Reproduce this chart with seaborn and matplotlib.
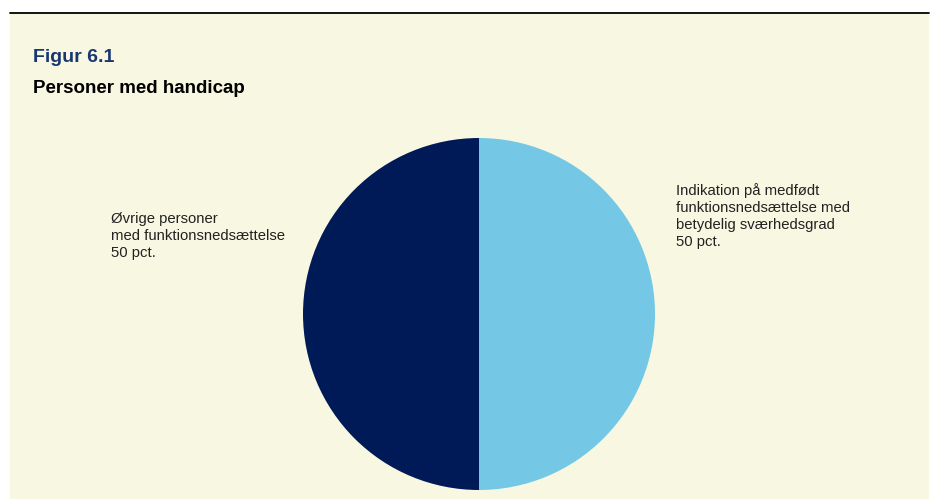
import matplotlib
matplotlib.use("Agg")
import matplotlib.pyplot as plt
import seaborn as sns
from matplotlib.patches import Rectangle
from matplotlib.lines import Line2D

# Data
labels = ["Øvrige personer\nmed funktionsnedsættelse\n50 pct.",
          "Indikation på medfødt\nfunktionsnedsættelse med\nbetydelig sværhedsgrad\n50 pct."]
shares = [50, 50]
colors = ["#001a57", "#74c8e6"]

sns.set_theme(style="white")
plt.rcParams['font.family'] = ['Liberation Sans', 'DejaVu Sans']

W, H = 936, 499
fig = plt.figure(figsize=(W / 100, H / 100), dpi=100)
fig.patch.set_facecolor("white")

# cream panel + top rule
fig.add_artist(Rectangle((10 / W, 0), (929 - 10) / W, (H - 13) / H,
                         transform=fig.transFigure, facecolor="#f8f7e1",
                         edgecolor="none", zorder=0))
fig.add_artist(Line2D([10 / W, 929 / W], [1 - 12.5 / H, 1 - 12.5 / H],
                      transform=fig.transFigure, color="black", lw=1.3))

fig.text(33 / W, 1 - 62 / H, "Figur 6.1", fontsize=14, fontweight="bold",
         color="#183670", va="baseline")
fig.text(33 / W, 1 - 93 / H, "Personer med handicap", fontsize=13.5,
         fontweight="bold", color="black", va="baseline")

# pie
cx, cy, r = 479, 314, 176
ax = fig.add_axes([(cx - r) / W, (H - cy - r) / H, 2 * r / W, 2 * r / H])
ax.pie(shares, colors=colors, startangle=90, counterclock=True,
       radius=1, wedgeprops=dict(linewidth=0))
ax.set_xlim(-1, 1)
ax.set_ylim(-1, 1)
ax.set_aspect("auto")
ax.axis("off")

fig.text(111 / W, 1 - 212 / H, labels[0], fontsize=10.7, color="#222222",
         va="top", ha="left", linespacing=1.27)
fig.text(676 / W, 1 - 183 / H, labels[1], fontsize=10.7, color="#222222",
         va="top", ha="left", linespacing=1.27)

fig.savefig("out.png", dpi=100, facecolor=fig.get_facecolor())
